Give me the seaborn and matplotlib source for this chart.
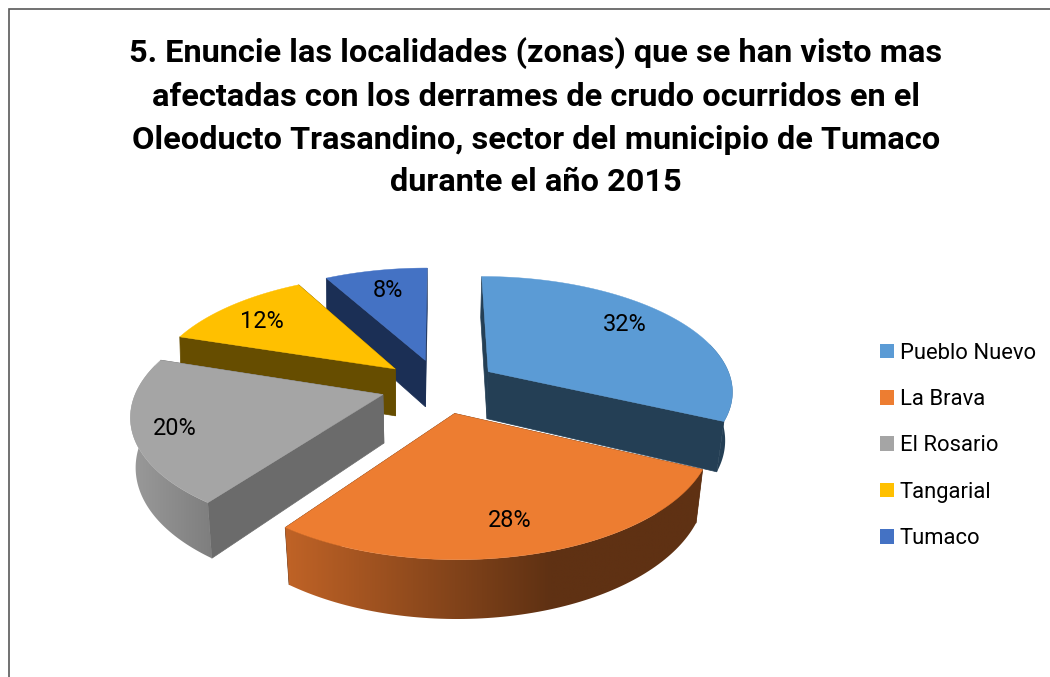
import numpy as np
import matplotlib
matplotlib.use("Agg")
import matplotlib.pyplot as plt
from matplotlib.patches import Patch, Polygon
import seaborn as sns

# ---- data ----
categories = ["Pueblo Nuevo", "La Brava", "El Rosario", "Tangarial", "Tumaco"]
values = [32, 28, 20, 12, 8]
title_lines = [
    "5. Enuncie las localidades (zonas) que se han visto mas",
    "afectadas con los derrames de crudo ocurridos en el",
    "Oleoducto Trasandino, sector del municipio de Tumaco",
    "durante el año 2015",
]

# ---- style ----
top_colors = ["#5B9BD5", "#ED7D31", "#A5A5A5", "#FFC000", "#4472C4"]
radial_colors = ["#243F55", "#5F3113", "#6B6B6B", "#664D00", "#1B2F55"]
rim_light = ["#243F55", "#BE6226", "#9B9B9B", "#664D00", "#1B2F55"]
rim_dark = ["#243F55", "#5F3113", "#7E7E7E", "#664D00", "#1B2F55"]
rim_x_range = [(480, 740), (290, 550), (129, 212), (170, 400), (320, 430)]
wall_shrink = [0.975, 0.975, 0.983, 0.995, 0.995]
label_nudge = [(4.5, -8), (3.5, 14), (-35, 8), (-15, -1.5), (-1, -5)]
draw_order = [4, 3, 0, 2, 1]

sns.set_theme(style="white")
plt.rcParams["font.family"] = ["Roboto", "Liberation Sans"]
title_px, label_px, legend_px = 32.5, 23.5, 22.0

# ---- projection of the tilted, exploded pie ----
CX, CY, FX, FY, PERSP, EXPLODE, DEPTH = 439.5, 386, 245, 114, 0.155, 0.24, 48


def project(theta_deg, radius, mid_deg):
    t, m = np.radians(theta_deg), np.radians(mid_deg)
    X = EXPLODE * np.sin(m) + radius * np.sin(t)
    Y = EXPLODE * np.cos(m) + radius * np.cos(t)
    w = 1 + PERSP * Y
    return CX + FX * X / w, CY - FY * Y / w, w


def lower(x, y, w, shrink):
    return CX + (x - CX) * shrink, y + DEPTH / w


fig = plt.figure(figsize=(10.5, 6.77), dpi=100, facecolor="white")
ax = fig.add_axes([0, 0, 1, 1])
ax.set_xlim(0, 1050)
ax.set_ylim(677, 0)
ax.set_axis_off()

# chart frame (only top and left are in view)
ax.plot([9, 9, 1050], [677, 9, 9], color="#595959", lw=1.2, solid_joinstyle="miter")

edges = np.concatenate([[0], np.cumsum(values)]) * 360.0 / sum(values)
for i in draw_order:
    a0, a1 = edges[i], edges[i + 1]
    mid = (a0 + a1) / 2
    z = draw_order.index(i) * 3
    s = wall_shrink[i]
    ax_apex = project(0, 0, mid)
    ax_low = lower(*ax_apex, s)

    # straight inner walls
    for ang in (a0, a1):
        p = project(ang, 1, mid)
        q = lower(*p, s)
        ax.fill([ax_apex[0], p[0], q[0], ax_low[0]], [ax_apex[1], p[1], q[1], ax_low[1]],
                color=radial_colors[i], lw=0.5, zorder=2 + z)

    # curved outer wall, front-facing part only, shaded across the screen
    lo, hi = max(a0, 75), min(a1, 285)
    if lo < hi:
        angs = np.linspace(lo, hi, 90)
        up = [project(a, 1, mid) for a in angs]
        down = [lower(*u, s) for u in up]
        outline = [(u[0], u[1]) for u in up] + [(d[0], d[1]) for d in reversed(down)]
        xs = np.array([o[0] for o in outline])
        ys = np.array([o[1] for o in outline])
        xmin, xmax = rim_x_range[i]
        grad = np.array(sns.blend_palette([rim_light[i], rim_dark[i]], n_colors=256))
        columns = np.linspace(xs.min(), xs.max(), 512)
        idx = (np.clip((columns - xmin) / (xmax - xmin), 0, 1) * 255).astype(int)
        im = ax.imshow(grad[idx][None, :, :], extent=(xs.min(), xs.max(), ys.max(), ys.min()),
                       aspect="auto", interpolation="bilinear", zorder=3 + z)
        clip = Polygon(outline, closed=True, transform=ax.transData)
        im.set_clip_path(clip)

    # top face
    angs = np.linspace(a0, a1, 120)
    rim = [project(a, 1, mid) for a in angs]
    ax.fill([ax_apex[0]] + [r[0] for r in rim], [ax_apex[1]] + [r[1] for r in rim],
            color=top_colors[i], lw=0.3, zorder=4 + z)

    # value label
    lx, ly, _ = project(mid, 0.7, mid)
    ax.text(lx + label_nudge[i][0], ly + label_nudge[i][1], f"{values[i]}%", ha="center", va="center",
            color="black", fontsize=label_px * 0.72, zorder=40)

# title
fig.text(536 / 1050, 1 - 37 / 677, "\n".join(title_lines), ha="center", va="top",
         fontweight="bold", fontsize=title_px * 0.72, color="black", linespacing=1.535)

# legend
handles = [Patch(facecolor=c, edgecolor="none") for c in top_colors]
ax.legend(handles, categories, loc="upper left", bbox_to_anchor=(873 / 1050, 1 - 336 / 677),
          bbox_transform=fig.transFigure, frameon=False, fontsize=legend_px * 0.72,
          handlelength=0.64, handleheight=0.64, handletextpad=0.27, labelspacing=1.155,
          borderpad=0.3, borderaxespad=0, labelcolor="black")

fig.savefig("out.png", dpi=100)
